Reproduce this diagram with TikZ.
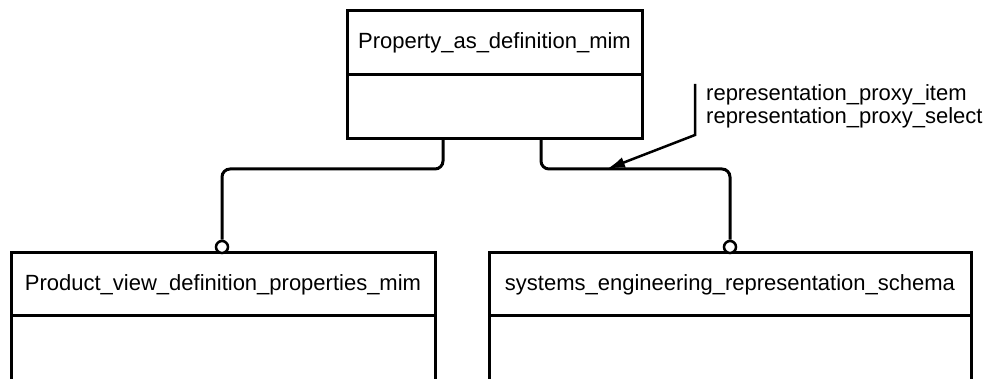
\documentclass[tikz,border=0pt]{standalone}
\usepackage{fontspec}
\setmainfont{Liberation Sans}
\usetikzlibrary{positioning,arrows.meta}
\begin{document}
\begin{tikzpicture}[x=1pt,y=-1pt,
  head/.style={draw, line width=3pt, inner sep=0pt, outer sep=0pt, font=\fontsize{22}{24}\selectfont},
  body/.style={draw, line width=3pt, inner sep=0pt, outer sep=0pt},
  lnk/.style={line width=3pt, rounded corners=8pt},
  ring/.style={circle, draw, fill=white, line width=2.5pt, inner sep=0pt, minimum size=12pt}]
\useasboundingbox (0,0) rectangle (986,379);
\clip (0,0) rectangle (986,379);
\node[head, minimum width=295pt, minimum height=64pt] (pad) at (494.5,43) {Property\_as\_definition\_mim};
\node[body, minimum width=295pt, minimum height=64pt, below=0pt of pad] (padb) {};
\node[head, minimum width=424pt, minimum height=63pt] (pvd) at (223,284.5) {Product\_view\_definition\_properties\_mim};
\node[body, minimum width=424pt, minimum height=100pt, below=0pt of pvd] (pvdb) {};
\node[head, minimum width=482pt, minimum height=63pt] (ser) at (730,284.5) {systems\_engineering\_representation\_schema};
\node[body, minimum width=482pt, minimum height=100pt, below=0pt of ser] (serb) {};
\node[ring] (pvdr) at (222,247) {};
\node[ring] (serr) at (730,247) {};
\draw[lnk] (padb.south -| 443,0) -- (443,169) -| (pvdr);
\draw[lnk] (padb.south -| 541,0) -- (541,169) -| (serr);
\node[anchor=north west, align=left, inner sep=0pt, font=\fontsize{22}{23.5}\selectfont] (prx) at (706,84) {representation\_proxy\_item\\representation\_proxy\_select};
\coordinate (prxa) at (695,84);
\coordinate (prxt) at (607,169);
\draw[line width=2.5pt, -{Latex[length=18pt,width=11pt]}] (prxa) -- (695,135) -- (prxt);
\end{tikzpicture}
\end{document}
